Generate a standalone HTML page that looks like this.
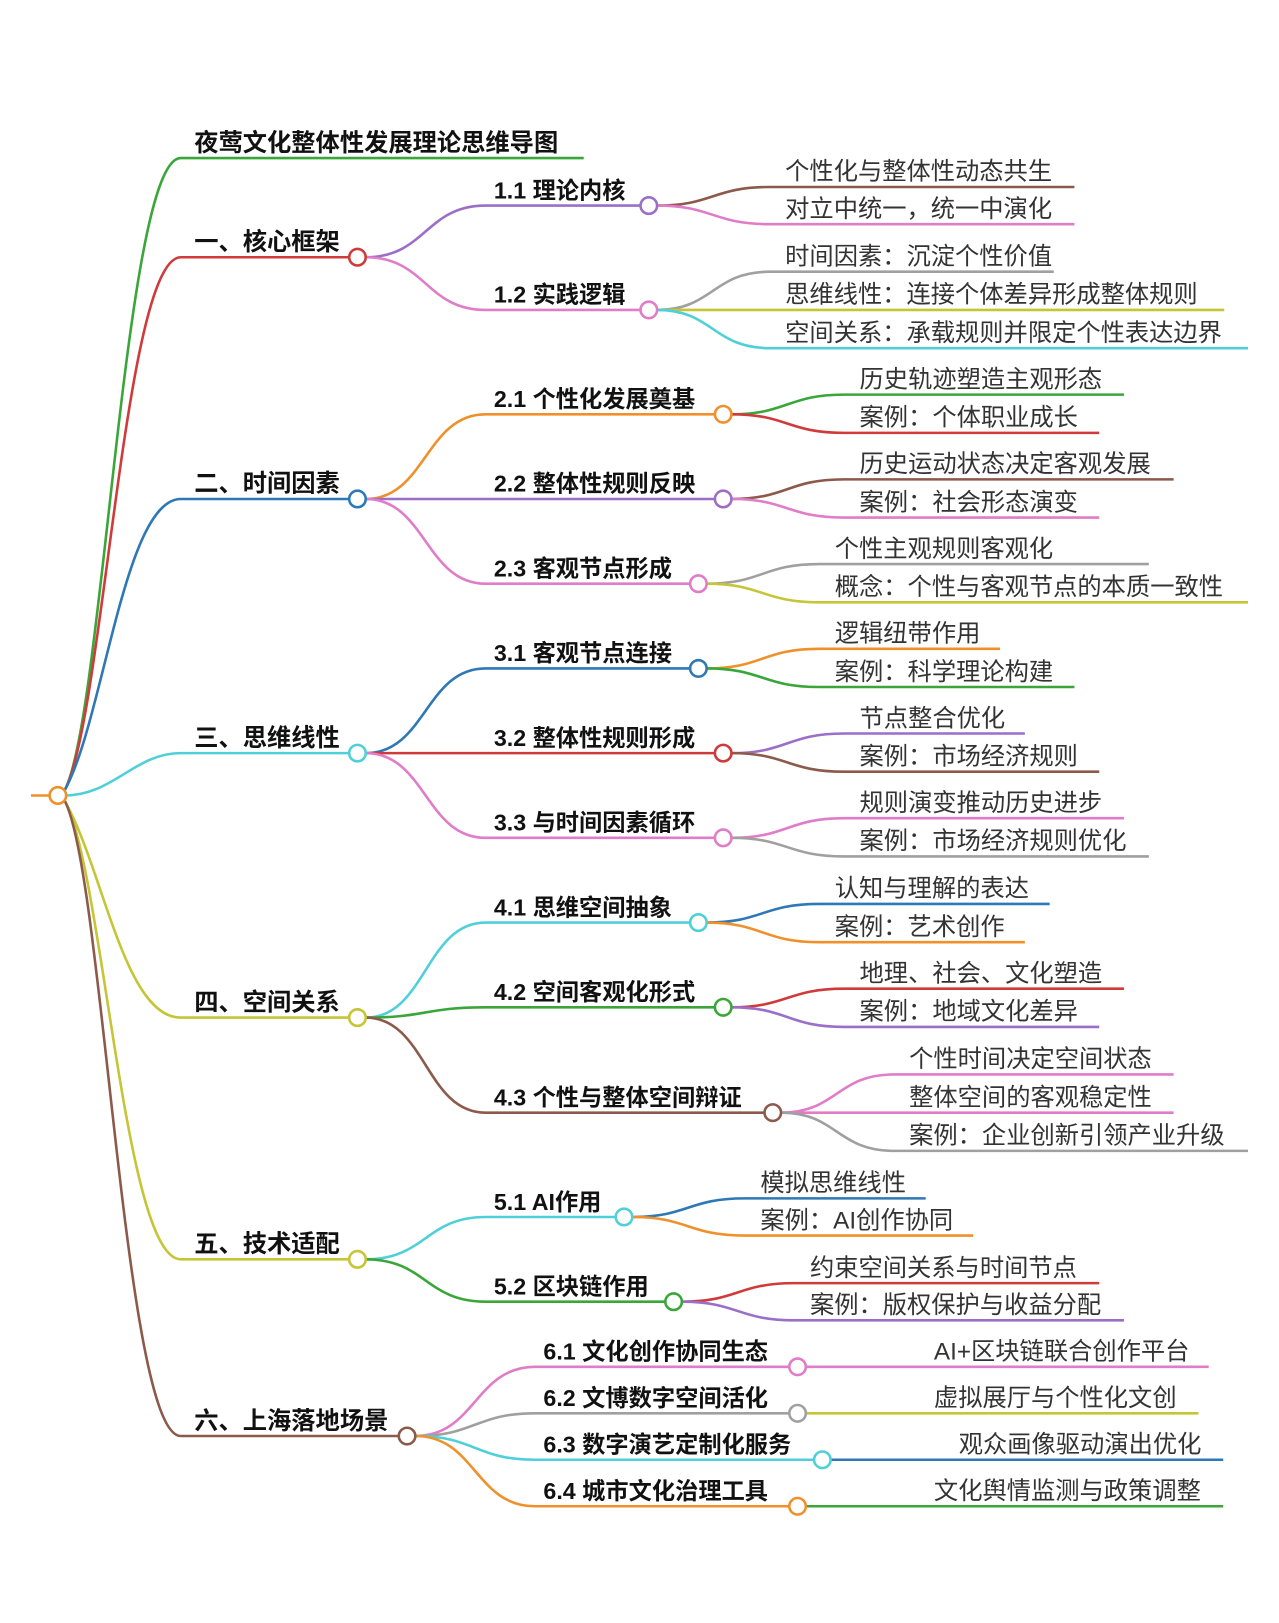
<!DOCTYPE html>
<html><head><meta charset="utf-8"><style>
html,body{margin:0;padding:0;background:#fff;width:1279px;height:1623px;overflow:hidden}
svg{display:block}
.l1{font:bold 23.5px "Liberation Sans","Noto Sans CJK SC",sans-serif;fill:#111}
.l2{font:bold 22.5px "Liberation Sans","Noto Sans CJK SC",sans-serif;fill:#111}
.l3{font:23.5px "Liberation Sans","Noto Sans CJK SC",sans-serif;fill:#333}
path,line{fill:none;stroke-width:2.5}
circle{fill:#fff;stroke-width:2.5}
</style></head><body>
<svg width="1279" height="1623" viewBox="0 0 1238 1571" preserveAspectRatio="none" xmlns="http://www.w3.org/2000/svg">
<line x1="30" y1="770" x2="48" y2="770" stroke="#f0902a"/>
<path d="M62 766 C100 700 120 153 175 153 L565 153" stroke="#3aa63a"/>
<path d="M62 766 C100 700 120 249 175 249 L338 249" stroke="#d03a3a"/>
<path d="M62 766 C100 700 120 483 175 483 L338 483" stroke="#2e78b5"/>
<path d="M62 770 C110 770 130 729 175 729 L338 729" stroke="#4fd0d8"/>
<path d="M62 774 C100 840 120 985 175 985 L338 985" stroke="#c5c535"/>
<path d="M62 774 C100 840 120 1219 175 1219 L338 1219" stroke="#c5c535"/>
<path d="M62 774 C100 840 120 1390 175 1390 L386 1390" stroke="#8b5a4a"/>
<circle cx="56" cy="770" r="8" stroke="#f0902a"/>
<text x="188" y="146" class="l1">夜莺文化整体性发展理论思维导图</text>
<text x="188" y="242" class="l1">一、核心框架</text>
<text x="188" y="476" class="l1">二、时间因素</text>
<text x="188" y="722" class="l1">三、思维线性</text>
<text x="188" y="978" class="l1">四、空间关系</text>
<text x="188" y="1212" class="l1">五、技术适配</text>
<text x="188" y="1383" class="l1">六、上海落地场景</text>

<path d="M354 249 C412 249 412 199 470 199 L620 199" stroke="#9b6fc8"/>
<path d="M354 249 C412 249 412 300 470 300 L620 300" stroke="#e07cc8"/>
<path d="M354 483 C412 483 412 401 470 401 L692 401" stroke="#f0902a"/>
<path d="M354 483 L692 483" stroke="#9b6fc8"/>
<path d="M354 483 C412 483 412 565 470 565 L668 565" stroke="#e07cc8"/>
<path d="M354 729 C412 729 412 647 470 647 L668 647" stroke="#2e78b5"/>
<path d="M354 729 L692 729" stroke="#d03a3a"/>
<path d="M354 729 C412 729 412 811 470 811 L692 811" stroke="#e07cc8"/>
<path d="M354 985 C412 985 412 893 470 893 L668 893" stroke="#4fd0d8"/>
<path d="M354 985 C412 985 412 975 470 975 L692 975" stroke="#3aa63a"/>
<path d="M354 985 C412 985 412 1077 470 1077 L740 1077" stroke="#8b5a4a"/>
<path d="M354 1219 C412 1219 412 1178 470 1178 L596 1178" stroke="#4fd0d8"/>
<path d="M354 1219 C412 1219 412 1260 470 1260 L644 1260" stroke="#3aa63a"/>
<path d="M402 1390 C460 1390 460 1323 518 1323 L764 1323" stroke="#e07cc8"/>
<path d="M402 1390 C460 1390 460 1368 518 1368 L764 1368" stroke="#a0a0a0"/>
<path d="M402 1390 C460 1390 460 1413 518 1413 L788 1413" stroke="#4fd0d8"/>
<path d="M402 1390 C460 1390 460 1458 518 1458 L764 1458" stroke="#f0902a"/>
<circle cx="346" cy="249" r="8" stroke="#d03a3a"/>
<circle cx="346" cy="483" r="8" stroke="#2e78b5"/>
<circle cx="346" cy="729" r="8" stroke="#4fd0d8"/>
<circle cx="346" cy="985" r="8" stroke="#c5c535"/>
<circle cx="346" cy="1219" r="8" stroke="#c5c535"/>
<circle cx="394" cy="1390" r="8" stroke="#8b5a4a"/>
<text x="478" y="192" class="l2">1.1 理论内核</text>
<text x="478" y="293" class="l2">1.2 实践逻辑</text>
<text x="478" y="394" class="l2">2.1 个性化发展奠基</text>
<text x="478" y="476" class="l2">2.2 整体性规则反映</text>
<text x="478" y="558" class="l2">2.3 客观节点形成</text>
<text x="478" y="640" class="l2">3.1 客观节点连接</text>
<text x="478" y="722" class="l2">3.2 整体性规则形成</text>
<text x="478" y="804" class="l2">3.3 与时间因素循环</text>
<text x="478" y="886" class="l2">4.1 思维空间抽象</text>
<text x="478" y="968" class="l2">4.2 空间客观化形式</text>
<text x="478" y="1070" class="l2">4.3 个性与整体空间辩证</text>
<text x="478" y="1171" class="l2">5.1 AI作用</text>
<text x="478" y="1253" class="l2">5.2 区块链作用</text>
<text x="526" y="1316" class="l2">6.1 文化创作协同生态</text>
<text x="526" y="1361" class="l2">6.2 文博数字空间活化</text>
<text x="526" y="1406" class="l2">6.3 数字演艺定制化服务</text>
<text x="526" y="1451" class="l2">6.4 城市文化治理工具</text>

<path d="M636 199 C690 199 690 181 745 181 L1040 181" stroke="#8b5a4a"/>
<path d="M636 199 C690 199 690 217 745 217 L1040 217" stroke="#e07cc8"/>
<path d="M636 300 C690 300 690 263 745 263 L1020 263" stroke="#a0a0a0"/>
<path d="M636 300 L1185 300" stroke="#c5c535"/>
<path d="M636 300 C690 300 690 337 745 337 L1208 337" stroke="#4fd0d8"/>
<path d="M708 401 C762 401 762 382 817 382 L1088 382" stroke="#3aa63a"/>
<path d="M708 401 C762 401 762 419 817 419 L1064 419" stroke="#d03a3a"/>
<path d="M708 483 C762 483 762 464 817 464 L1136 464" stroke="#8b5a4a"/>
<path d="M708 483 C762 483 762 501 817 501 L1064 501" stroke="#e07cc8"/>
<path d="M684 565 C738 565 738 546 793 546 L1112 546" stroke="#a0a0a0"/>
<path d="M684 565 C738 565 738 583 793 583 L1208 583" stroke="#c5c535"/>
<path d="M684 647 C738 647 738 628 793 628 L968 628" stroke="#f0902a"/>
<path d="M684 647 C738 647 738 665 793 665 L1040 665" stroke="#3aa63a"/>
<path d="M708 729 C762 729 762 710 817 710 L992 710" stroke="#9b6fc8"/>
<path d="M708 729 C762 729 762 747 817 747 L1064 747" stroke="#8b5a4a"/>
<path d="M708 811 C762 811 762 792 817 792 L1088 792" stroke="#e07cc8"/>
<path d="M708 811 C762 811 762 829 817 829 L1112 829" stroke="#a0a0a0"/>
<path d="M684 893 C738 893 738 875 793 875 L1016 875" stroke="#2e78b5"/>
<path d="M684 893 C738 893 738 912 793 912 L992 912" stroke="#f0902a"/>
<path d="M708 975 C762 975 762 957 817 957 L1088 957" stroke="#d03a3a"/>
<path d="M708 975 C762 975 762 994 817 994 L1064 994" stroke="#9b6fc8"/>
<path d="M756 1077 C810 1077 810 1040 865 1040 L1136 1040" stroke="#e07cc8"/>
<path d="M756 1077 L1136 1077" stroke="#e07cc8"/>
<path d="M756 1077 C810 1077 810 1114 865 1114 L1208 1114" stroke="#a0a0a0"/>
<path d="M612 1178 C666 1178 666 1160 721 1160 L896 1160" stroke="#2e78b5"/>
<path d="M612 1178 C666 1178 666 1196 721 1196 L942 1196" stroke="#f0902a"/>
<path d="M660 1260 C714 1260 714 1242 769 1242 L1064 1242" stroke="#d03a3a"/>
<path d="M660 1260 C714 1260 714 1278 769 1278 L1088 1278" stroke="#9b6fc8"/>
<path d="M780 1323 L1170 1323" stroke="#e07cc8"/>
<path d="M780 1368 L1160 1368" stroke="#c5c535"/>
<path d="M804 1413 L1184 1413" stroke="#2e78b5"/>
<path d="M780 1458 L1184 1458" stroke="#3aa63a"/>

<circle cx="628" cy="199" r="8" stroke="#9b6fc8"/>
<circle cx="628" cy="300" r="8" stroke="#e07cc8"/>
<circle cx="700" cy="401" r="8" stroke="#f0902a"/>
<circle cx="700" cy="483" r="8" stroke="#9b6fc8"/>
<circle cx="676" cy="565" r="8" stroke="#e07cc8"/>
<circle cx="676" cy="647" r="8" stroke="#2e78b5"/>
<circle cx="700" cy="729" r="8" stroke="#d03a3a"/>
<circle cx="700" cy="811" r="8" stroke="#e07cc8"/>
<circle cx="676" cy="893" r="8" stroke="#4fd0d8"/>
<circle cx="700" cy="975" r="8" stroke="#3aa63a"/>
<circle cx="748" cy="1077" r="8" stroke="#8b5a4a"/>
<circle cx="604" cy="1178" r="8" stroke="#4fd0d8"/>
<circle cx="652" cy="1260" r="8" stroke="#3aa63a"/>
<circle cx="772" cy="1323" r="8" stroke="#e07cc8"/>
<circle cx="772" cy="1368" r="8" stroke="#a0a0a0"/>
<circle cx="796" cy="1413" r="8" stroke="#4fd0d8"/>
<circle cx="772" cy="1458" r="8" stroke="#f0902a"/>

<text x="760" y="174" class="l3">个性化与整体性动态共生</text>
<text x="760" y="210" class="l3">对立中统一，统一中演化</text>
<text x="760" y="256" class="l3">时间因素：沉淀个性价值</text>
<text x="760" y="293" class="l3">思维线性：连接个体差异形成整体规则</text>
<text x="760" y="330" class="l3">空间关系：承载规则并限定个性表达边界</text>
<text x="832" y="375" class="l3">历史轨迹塑造主观形态</text>
<text x="832" y="412" class="l3">案例：个体职业成长</text>
<text x="832" y="457" class="l3">历史运动状态决定客观发展</text>
<text x="832" y="494" class="l3">案例：社会形态演变</text>
<text x="808" y="539" class="l3">个性主观规则客观化</text>
<text x="808" y="576" class="l3">概念：个性与客观节点的本质一致性</text>
<text x="808" y="621" class="l3">逻辑纽带作用</text>
<text x="808" y="658" class="l3">案例：科学理论构建</text>
<text x="832" y="703" class="l3">节点整合优化</text>
<text x="832" y="740" class="l3">案例：市场经济规则</text>
<text x="832" y="785" class="l3">规则演变推动历史进步</text>
<text x="832" y="822" class="l3">案例：市场经济规则优化</text>
<text x="808" y="868" class="l3">认知与理解的表达</text>
<text x="808" y="905" class="l3">案例：艺术创作</text>
<text x="832" y="950" class="l3">地理、社会、文化塑造</text>
<text x="832" y="987" class="l3">案例：地域文化差异</text>
<text x="880" y="1033" class="l3">个性时间决定空间状态</text>
<text x="880" y="1070" class="l3">整体空间的客观稳定性</text>
<text x="880" y="1107" class="l3">案例：企业创新引领产业升级</text>
<text x="736" y="1153" class="l3">模拟思维线性</text>
<text x="736" y="1189" class="l3">案例：AI创作协同</text>
<text x="784" y="1235" class="l3">约束空间关系与时间节点</text>
<text x="784" y="1271" class="l3">案例：版权保护与收益分配</text>
<text x="904" y="1316" class="l3">AI+区块链联合创作平台</text>
<text x="904" y="1361" class="l3">虚拟展厅与个性化文创</text>
<text x="928" y="1406" class="l3">观众画像驱动演出优化</text>
<text x="904" y="1451" class="l3">文化舆情监测与政策调整</text>
</svg>
</body></html>
